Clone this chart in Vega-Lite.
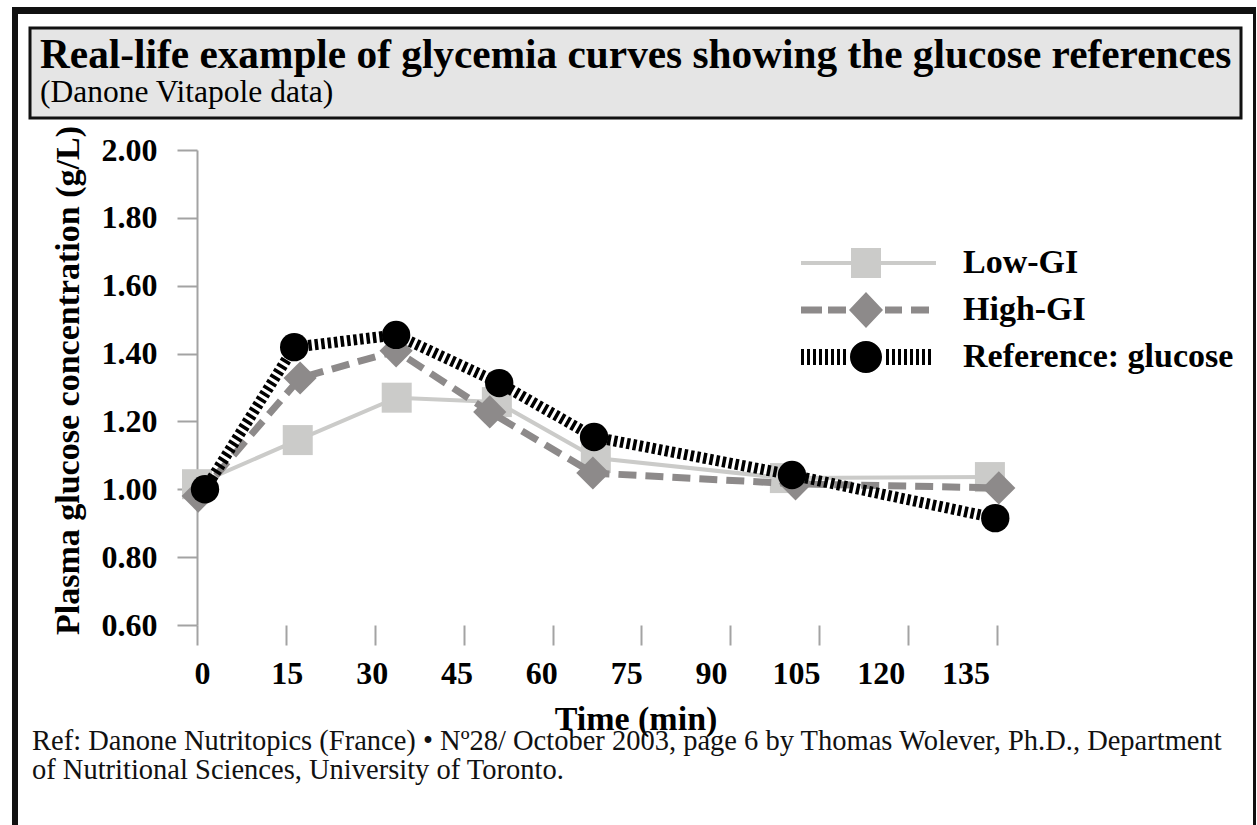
{
  "$schema": "https://vega.github.io/schema/vega-lite/v6.json",
  "background": "#ffffff",
  "padding": {"left": 12, "top": 7, "right": 0, "bottom": 0},
  "config": {"view": {"stroke": null}, "font": "Liberation Serif"},
  "datasets": {
    "glyc": [
      {"series": "Low-GI", "time": 0, "glucose": 1.015},
      {"series": "Low-GI", "time": 17.0, "glucose": 1.145},
      {"series": "Low-GI", "time": 33.7, "glucose": 1.27},
      {"series": "Low-GI", "time": 50.6, "glucose": 1.257},
      {"series": "Low-GI", "time": 67.3, "glucose": 1.092},
      {"series": "Low-GI", "time": 99.2, "glucose": 1.033},
      {"series": "Low-GI", "time": 133.8, "glucose": 1.036},
      {"series": "High-GI", "time": 0.2, "glucose": 0.98},
      {"series": "High-GI", "time": 17.4, "glucose": 1.328},
      {"series": "High-GI", "time": 33.6, "glucose": 1.408},
      {"series": "High-GI", "time": 49.4, "glucose": 1.228},
      {"series": "High-GI", "time": 66.8, "glucose": 1.048},
      {"series": "High-GI", "time": 101.0, "glucose": 1.016},
      {"series": "High-GI", "time": 135.3, "glucose": 1.004},
      {"series": "Reference: glucose", "time": 1.35, "glucose": 1.0},
      {"series": "Reference: glucose", "time": 16.4, "glucose": 1.419},
      {"series": "Reference: glucose", "time": 33.6, "glucose": 1.455},
      {"series": "Reference: glucose", "time": 51.0, "glucose": 1.313},
      {"series": "Reference: glucose", "time": 67.0, "glucose": 1.154},
      {"series": "Reference: glucose", "time": 100.4, "glucose": 1.042},
      {"series": "Reference: glucose", "time": 134.7, "glucose": 0.915}
    ]
  },
  "spacing": 0,
  "vconcat": [
    {
      "width": 1244, "height": 7,
      "view": {"fill": "#111111", "stroke": null},
      "data": {"values": [{}]},
      "mark": {"type": "point", "size": 1, "opacity": 0}
    },
    {
      "spacing": 10,
      "hconcat": [
        {
          "width": 6, "height": 811,
          "view": {"fill": "#111111", "stroke": null},
          "data": {"values": [{}]},
          "mark": {"type": "point", "size": 1, "opacity": 0}
        },
        {
          "spacing": 0,
          "vconcat": [
            {
              "width": 1211, "height": 12,
              "data": {"values": [{}]},
              "mark": {"type": "point", "size": 1, "opacity": 0}
            },
            {
              "width": 1211, "height": 90,
              "view": {"fill": "#e5e5e5", "stroke": "#111111", "strokeWidth": 3},
              "title": {
                "text": "Real-life example of glycemia curves showing the glucose references",
                "subtitle": "(Danone Vitapole data)",
                "orient": "bottom", "anchor": "start", "frame": "group",
                "offset": -83, "dx": 10,
                "font": "Liberation Serif", "fontSize": 41.3, "fontWeight": "bold", "color": "#000000",
                "subtitleFont": "Liberation Serif", "subtitleFontSize": 31.5, "subtitleFontWeight": "normal",
                "subtitleColor": "#000000", "subtitlePadding": 1
              },
              "data": {"values": [{}]},
              "mark": {"type": "point", "size": 1, "opacity": 0}
            },
            {
              "width": 1211, "height": 5,
              "data": {"values": [{}]},
              "mark": {"type": "point", "size": 1, "opacity": 0}
            },
            {
              "width": 1211, "height": 475,
              "data": {"name": "glyc"},
              "title": {
                "text": ["Ref: Danone Nutritopics (France)  • Nº28/ October 2003, page 6 by Thomas Wolever, Ph.D., Department", "of Nutritional Sciences, University of Toronto."],
                "orient": "bottom", "anchor": "start", "frame": "group",
                "offset": -9, "dx": 2,
                "font": "Liberation Serif", "fontSize": 28.5, "fontWeight": "normal", "lineHeight": 29, "color": "#111111"
              },
              "encoding": {
                "x": {
                  "field": "time", "type": "quantitative",
                  "scale": {"domain": [-28.18, 176.17], "nice": false, "zero": false},
                  "axis": {
                    "values": [0, 15, 30, 45, 60, 75, 90, 105, 120, 135],
                    "title": "Time (min)", "domain": false, "grid": false,
                    "tickSize": 20, "tickColor": "#a3a3a3", "tickWidth": 2,
                    "labelFont": "Liberation Serif", "labelFontSize": 32, "labelFontWeight": "bold", "labelColor": "#000000",
                    "labelPadding": 13, "labelFlush": false, "labelOverlap": false,
                    "labelOffset": {"expr": "5 - 0.27 * datum.value"},
                    "titleFont": "Liberation Serif", "titleFontSize": 34, "titleFontWeight": "bold", "titleColor": "#000000",
                    "titlePadding": 13
                  }
                },
                "y": {
                  "field": "glucose", "type": "quantitative",
                  "scale": {"domain": [0.6, 2.0], "nice": false, "zero": false},
                  "axis": {
                    "orient": "left", "offset": -167,
                    "values": [0.6, 0.8, 1.0, 1.2, 1.4, 1.6, 1.8, 2.0], "format": ".2f",
                    "grid": false,
                    "title": "Plasma glucose concentration (g/L)",
                    "titleFont": "Liberation Serif", "titleFontSize": 34, "titleFontWeight": "bold", "titleColor": "#000000",
                    "titlePadding": 16, "titleY": 230,
                    "labelFont": "Liberation Serif", "labelFontSize": 32, "labelFontWeight": "bold", "labelColor": "#000000",
                    "labelPadding": 20, "labelFlush": false, "labelOverlap": false,
                    "tickSize": 20, "tickColor": "#a3a3a3", "tickWidth": 2,
                    "domainColor": "#a3a3a3", "domainWidth": 2
                  }
                }
              },
              "layer": [
                {
                  "data": {"values": [{}]},
                  "mark": {"type": "rule", "color": "#a3a3a3", "strokeWidth": 2},
                  "encoding": {"x": {"datum": 0}, "x2": {"datum": 151.5}, "y": {"datum": 0.6}}
                },
                {
                  "transform": [{"filter": "datum.series === 'Low-GI'"}],
                  "mark": {"type": "line", "color": "#cbcbc9", "strokeWidth": 4}
                },
                {
                  "transform": [{"filter": "datum.series === 'Low-GI'"}],
                  "mark": {"type": "point", "shape": "square", "filled": true, "color": "#cbcbc9", "size": 900, "opacity": 1}
                },
                {
                  "transform": [{"filter": "datum.series === 'High-GI'"}],
                  "mark": {"type": "line", "color": "#8d8a8a", "strokeWidth": 7, "strokeDash": [18, 9]}
                },
                {
                  "transform": [{"filter": "datum.series === 'High-GI'"}],
                  "mark": {"type": "point", "shape": "diamond", "filled": true, "color": "#8d8a8a", "size": 1100, "opacity": 1}
                },
                {
                  "transform": [{"filter": "datum.series === 'Reference: glucose'"}],
                  "mark": {"type": "line", "color": "#000000", "strokeWidth": 11, "strokeDash": [3.5, 3]}
                },
                {
                  "transform": [{"filter": "datum.series === 'Reference: glucose'"}],
                  "mark": {"type": "point", "shape": "circle", "filled": true, "color": "#000000", "size": 804, "opacity": 1}
                },
                {
                  "mark": {"type": "point", "filled": true, "opacity": 0, "size": 4},
                  "encoding": {
                    "color": {
                      "field": "series", "type": "nominal",
                      "scale": {"domain": ["Low-GI", "High-GI", "Reference: glucose"], "range": ["#cbcbc9", "#8d8a8a", "#000000"]},
                      "legend": {
                        "title": null, "orient": "none", "legendX": 837, "legendY": 239, "direction": "vertical",
                        "symbolSize": 4, "symbolStrokeWidth": 0, "symbolOpacity": 1,
                        "labelFont": "Liberation Serif", "labelFontSize": 34, "labelFontWeight": "bold", "labelColor": "#000000",
                        "labelOffset": 80, "labelLimit": 400, "rowPadding": 12, "padding": 0
                      }
                    },
                    "shape": {
                      "field": "series", "type": "nominal",
                      "scale": {
                        "domain": ["Low-GI", "High-GI", "Reference: glucose"],
                        "range": [
                          "M-65,-2H70V2H-65Z M-15,-15H15V15H-15Z",
                          "M-65,-3.5H-44V3.5H-65Z M-38,-3.5H-20V3.5H-38Z M0,-18L17,0L0,18L-17,0Z M19,-3.5H36V3.5H19Z M45,-3.5H63V3.5H45Z",
                          "M-65,-8h3v16h-3Z M-59,-8h3v16h-3Z M-53,-8h3v16h-3Z M-47,-8h3v16h-3Z M-41,-8h3v16h-3Z M-35,-8h3v16h-3Z M-29,-8h3v16h-3Z M-23,-8h3v16h-3Z M20,-8h3v16h-3Z M26,-8h3v16h-3Z M32,-8h3v16h-3Z M38,-8h3v16h-3Z M44,-8h3v16h-3Z M50,-8h3v16h-3Z M56,-8h3v16h-3Z M62,-8h3v16h-3Z M-16,0A16,16,0,1,1,16,0A16,16,0,1,1,-16,0Z"
                        ]
                      },
                      "legend": {
                        "title": null, "orient": "none", "legendX": 837, "legendY": 239, "direction": "vertical",
                        "symbolSize": 4, "symbolStrokeWidth": 0, "symbolOpacity": 1,
                        "labelFont": "Liberation Serif", "labelFontSize": 34, "labelFontWeight": "bold", "labelColor": "#000000",
                        "labelOffset": 80, "labelLimit": 400, "rowPadding": 12, "padding": 0
                      }
                    }
                  }
                }
              ]
            }
          ]
        },
        {
          "width": 3, "height": 811,
          "view": {"fill": "#111111", "stroke": null},
          "data": {"values": [{}]},
          "mark": {"type": "point", "size": 1, "opacity": 0}
        }
      ]
    }
  ]
}
